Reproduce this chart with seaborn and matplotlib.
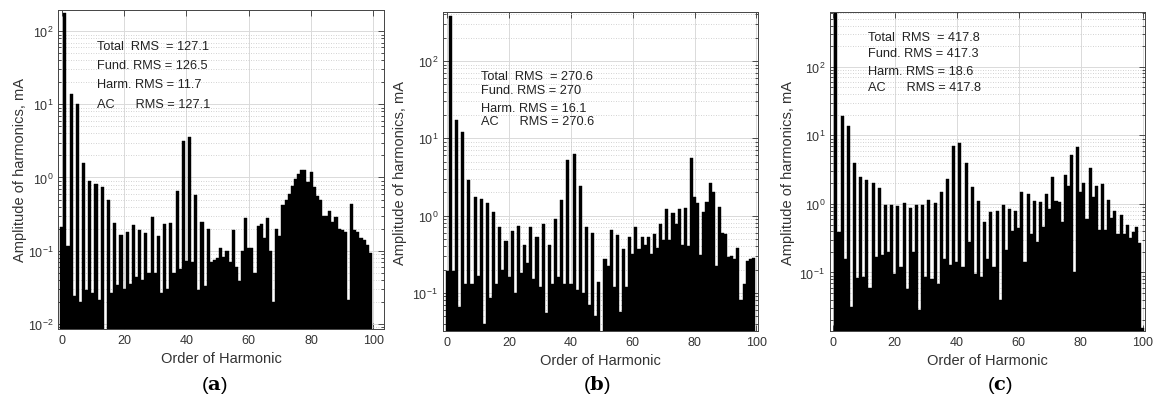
import numpy as np
import pandas as pd
import matplotlib.pyplot as plt
import matplotlib.ticker as mticker
import seaborn as sns

# Harmonic spectra (mA)
orders_a = list(range(0, 100))
amp_a = [0.21, 180, 0.117, 14, 0.024, 10, 0.02, 1.6, 0.029, 0.9,
         0.026, 0.81, 0.021, 0.74, 0.008, 0.49, 0.026, 0.236, 0.034, 0.166,
         0.03, 0.18, 0.035, 0.226, 0.043, 0.19, 0.04, 0.176, 0.049, 0.285,
         0.05, 0.158, 0.026, 0.23, 0.03, 0.24, 0.05, 0.65, 0.056, 3.2,
         0.072, 3.6, 0.07, 0.58, 0.029, 0.25, 0.033, 0.2, 0.07, 0.075,
         0.08, 0.11, 0.083, 0.1, 0.07, 0.19, 0.06, 0.039, 0.1, 0.28,
         0.11, 0.11, 0.05, 0.22, 0.23, 0.15, 0.28, 0.1, 0.02, 0.2,
         0.16, 0.42, 0.5, 0.6, 0.77, 0.95, 1.1, 1.27, 1.27, 0.86,
         1.2, 0.75, 0.55, 0.5, 0.3, 0.3, 0.35, 0.25, 0.29, 0.2,
         0.19, 0.18, 0.021, 0.44, 0.19, 0.18, 0.15, 0.14, 0.12, 0.092]

orders_b = list(range(0, 100))
amp_b = [0.19, 380, 0.19, 17, 0.066, 12, 0.13, 2.9, 0.13, 1.75,
         0.165, 1.65, 0.04, 1.45, 0.085, 1.1, 0.13, 0.72, 0.2, 0.47,
         0.16, 0.63, 0.1, 0.73, 0.18, 0.42, 0.24, 0.72, 0.15, 0.52,
         0.12, 0.78, 0.055, 0.42, 0.13, 0.9, 0.16, 1.6, 0.13, 5.3,
         0.13, 6.2, 0.11, 2.4, 0.1, 0.72, 0.07, 0.6, 0.05, 0.14,
         0.03, 0.27, 0.22, 0.65, 0.12, 0.56, 0.056, 0.37, 0.12, 0.53,
         0.32, 0.7, 0.37, 0.52, 0.42, 0.52, 0.32, 0.58, 0.38, 0.78,
         0.48, 1.2, 0.48, 1.08, 0.78, 1.2, 0.42, 1.25, 0.4, 5.5,
         1.75, 1.45, 0.31, 1.1, 1.5, 2.6, 2.0, 0.22, 1.3, 0.6,
         0.57, 0.29, 0.3, 0.27, 0.38, 0.08, 0.13, 0.26, 0.27, 0.28]

orders_c = list(range(0, 101))
amp_c = [0.01, 600, 0.39, 19, 0.16, 13.8, 0.031, 3.9, 0.083, 2.5,
         0.085, 2.2, 0.06, 2.0, 0.17, 1.7, 0.18, 0.95, 0.2, 0.95,
         0.095, 0.93, 0.12, 1.03, 0.058, 0.86, 0.2, 0.95, 0.028, 0.98,
         0.085, 1.14, 0.08, 1.03, 0.068, 1.5, 0.16, 2.35, 0.13, 7.0,
         0.14, 7.8, 0.12, 3.9, 0.28, 1.75, 0.095, 1.12, 0.085, 0.54,
         0.16, 0.77, 0.12, 0.79, 0.04, 0.98, 0.21, 0.85, 0.4, 0.79,
         0.44, 1.47, 0.14, 1.4, 0.37, 1.1, 0.28, 1.05, 0.46, 1.4,
         0.83, 2.45, 1.1, 1.05, 0.54, 2.6, 1.85, 5.1, 0.1, 6.8,
         1.5, 2.0, 0.6, 3.3, 1.25, 1.85, 0.41, 1.95, 0.41, 1.15,
         0.62, 0.79, 0.37, 0.7, 0.37, 0.5, 0.32, 0.39, 0.46, 0.27,
         0.0155]

rms_a = ["Total  RMS  = 127.1", "Fund. RMS = 126.5", "Harm. RMS = 11.7", "AC      RMS = 127.1"]
rms_b = ["Total  RMS  = 270.6", "Fund. RMS = 270", "Harm. RMS = 16.1", "AC      RMS = 270.6"]
rms_c = ["Total  RMS  = 417.8", "Fund. RMS = 417.3", "Harm. RMS = 18.6", "AC      RMS = 417.8"]

sns.set_theme(style="ticks")
plt.rcParams["font.family"] = ["Liberation Sans", "DejaVu Sans"]
plt.rcParams["mathtext.default"] = "regular"

fig = plt.figure(figsize=(11.56, 4.14), dpi=100)

panels = [
    # orders, values, texts, axes rect, xlim, ylim, text y positions, ylabel x, caption x, caption
    (orders_a, amp_a, rms_a, [0.0502, 0.203, 0.282, 0.7705], (-1.2, 103.4), (0.0085, 195),
     [0.888, 0.826, 0.768, 0.705], -0.095, 0.185, "a"),
    (orders_b, amp_b, rms_b, [0.3832, 0.198, 0.2725, 0.7705], (-1.4, 100.5), (0.032, 430),
     [0.80, 0.755, 0.699, 0.657], -0.114, 0.516, "b"),
    (orders_c, amp_c, rms_c, [0.718, 0.198, 0.2725, 0.7705], (-0.9, 100.7), (0.014, 630),
     [0.921, 0.871, 0.816, 0.764], -0.111, 0.865, "c"),
]

for orders, vals, texts, rect, xlim, ylim, ty, lx, cx, cap in panels:
    ax = fig.add_axes(rect)
    df = pd.DataFrame({"order": orders, "amp": vals})
    sns.barplot(data=df, x="order", y="amp", native_scale=True, width=1,
                color="black", saturation=1, errorbar=None,
                edgecolor="black", linewidth=0.3, ax=ax)
    ax.set_yscale("log")
    ax.set_xlim(*xlim)
    ax.set_ylim(*ylim)
    ax.set_xticks([0, 20, 40, 60, 80, 100])
    ax.yaxis.set_major_locator(mticker.LogLocator(base=10, numticks=20))
    ax.yaxis.set_minor_locator(mticker.LogLocator(base=10, subs=np.arange(2, 10), numticks=20))
    ax.yaxis.set_minor_formatter(mticker.NullFormatter())
    ax.set_axisbelow(True)
    ax.grid(True, which="major", color="#dadada", linewidth=0.7)
    ax.grid(True, which="minor", axis="y", color="#c4c4c4", linestyle=(0, (1, 2)), linewidth=0.6)
    ax.tick_params(which="both", direction="in", top=True, right=True,
                   labelsize=9, colors="#333333", width=0.6)
    ax.tick_params(which="major", length=4)
    ax.tick_params(which="minor", length=2)
    for s in ax.spines.values():
        s.set_color("#444444")
        s.set_linewidth(0.7)
    ax.set_xlabel("Order of Harmonic", fontsize=10.5, color="#333333", labelpad=4)
    ax.set_ylabel("Amplitude of harmonics, mA", fontsize=10.5, color="#333333")
    ax.yaxis.set_label_coords(lx, 0.5)
    for t, y in zip(texts, ty):
        ax.text(0.12, y, t, transform=ax.transAxes, fontsize=9.2, color="#222222",
                va="center", ha="left")
    fig.text(cx, 0.07, r"$(\mathbf{%s})$" % cap, fontsize=14, ha="center", va="center",
             math_fontfamily="dejavuserif", color="black")

fig.savefig("out.png", dpi=100)
